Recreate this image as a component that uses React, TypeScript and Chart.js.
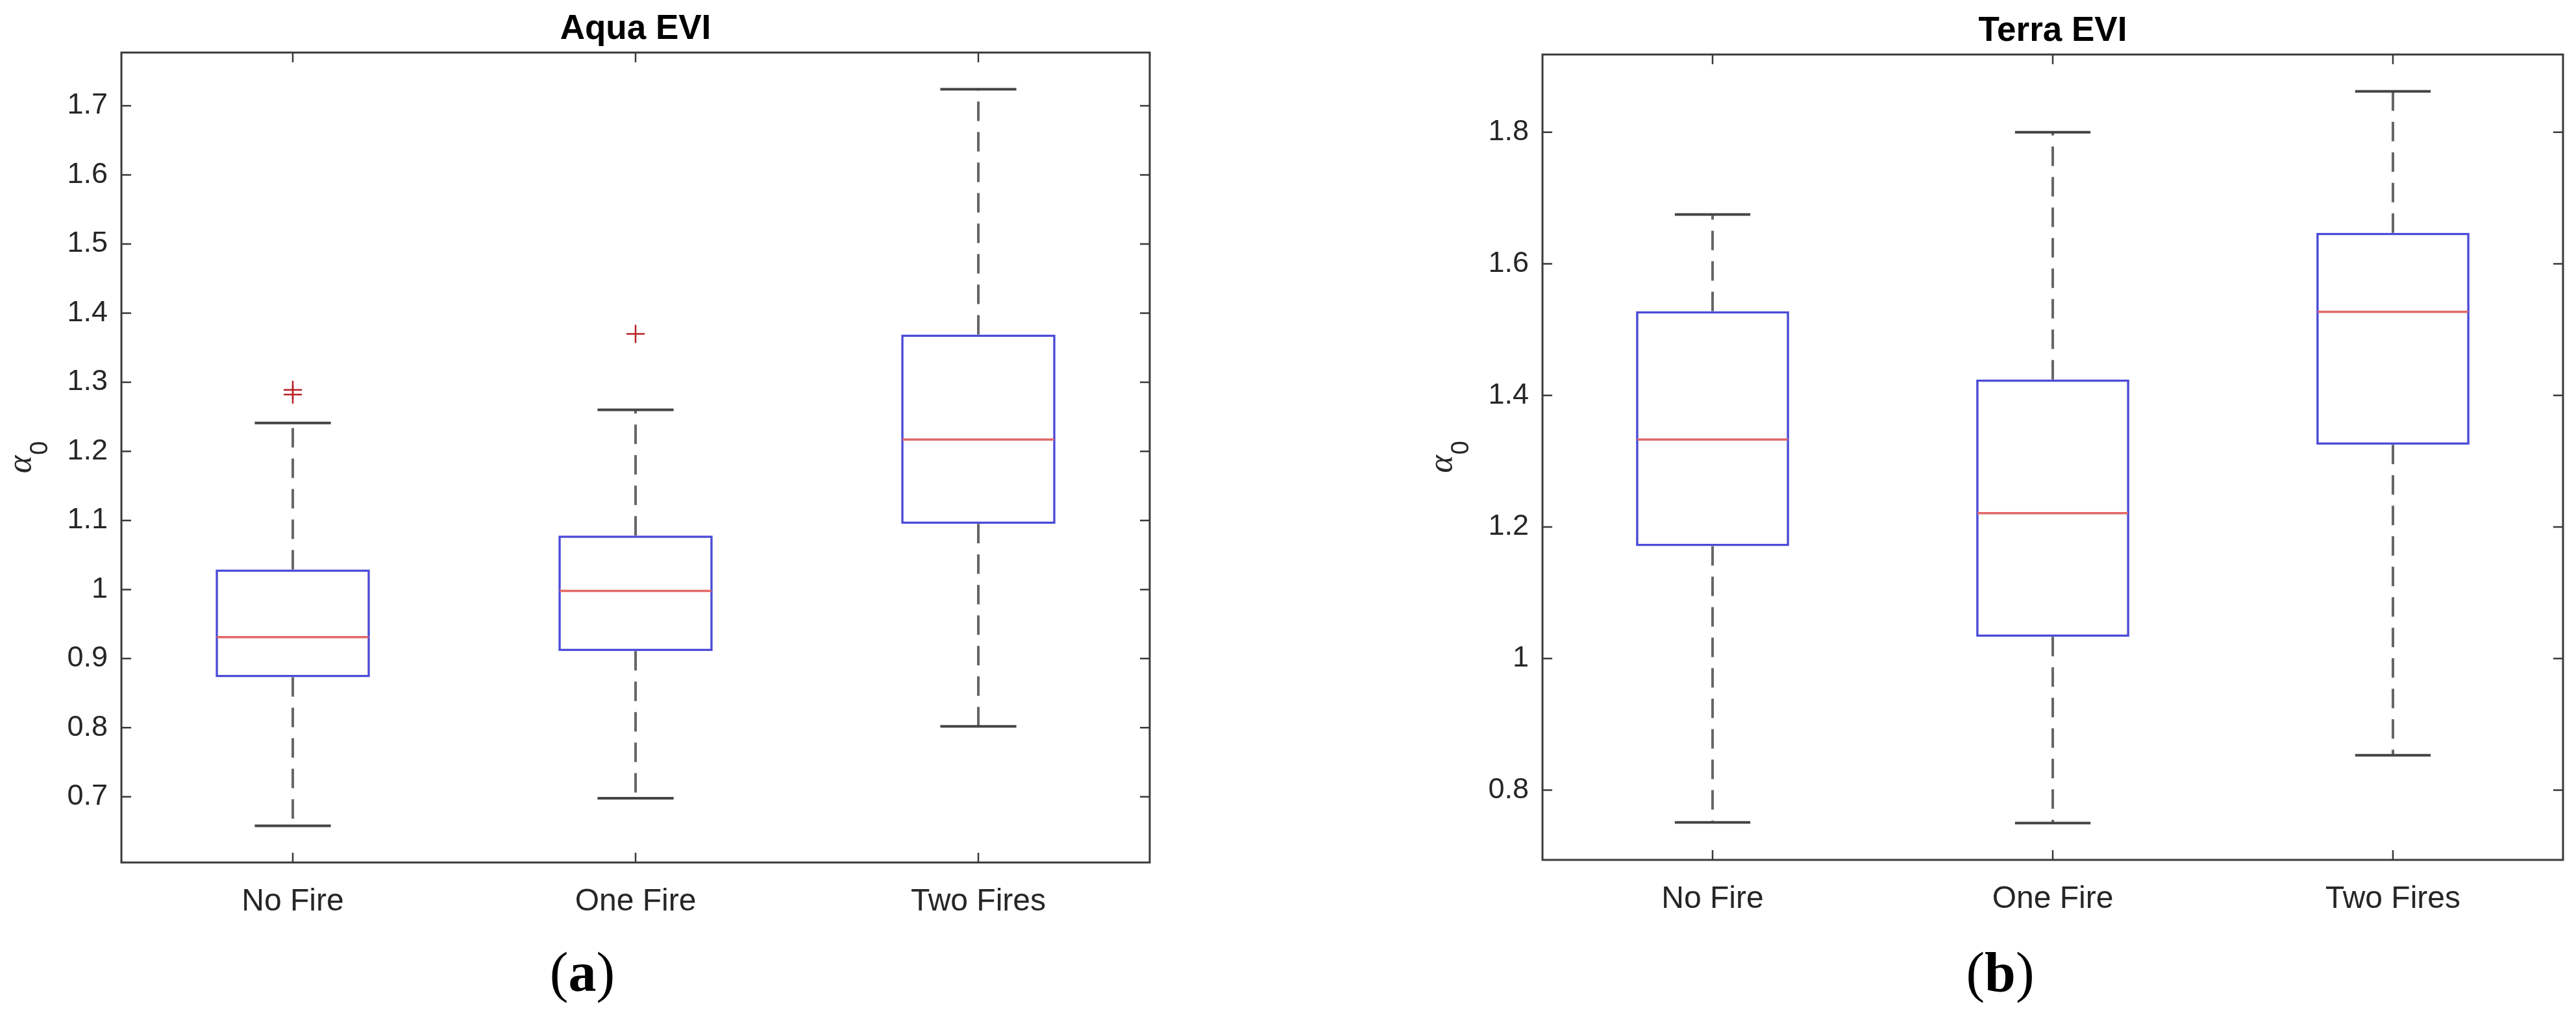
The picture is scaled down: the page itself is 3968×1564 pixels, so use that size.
import React, { useEffect, useRef } from 'react';
import { Chart, registerables } from 'chart.js';

Chart.register(...registerables);

// ---------------- data ----------------
const CATEGORIES = ['No Fire', 'One Fire', 'Two Fires'];

const AQUA_LOWER_WHISKER = [0.658, 0.698, 0.802];
const AQUA_Q1 = [0.873, 0.911, 1.095];
const AQUA_MEDIAN = [0.931, 0.998, 1.217];
const AQUA_Q3 = [1.029, 1.078, 1.369];
const AQUA_UPPER_WHISKER = [1.241, 1.26, 1.724];
const AQUA_OUTLIER_GROUPS = ['No Fire', 'No Fire', 'One Fire'];
const AQUA_OUTLIER_VALUES = [1.289, 1.282, 1.37];
const AQUA_Y_TICKS = [0.7, 0.8, 0.9, 1, 1.1, 1.2, 1.3, 1.4, 1.5, 1.6, 1.7];
const AQUA_Y_LIMITS = [0.605, 1.777];

const TERRA_LOWER_WHISKER = [0.751, 0.75, 0.853];
const TERRA_Q1 = [1.171, 1.033, 1.325];
const TERRA_MEDIAN = [1.333, 1.221, 1.527];
const TERRA_Q3 = [1.528, 1.424, 1.647];
const TERRA_UPPER_WHISKER = [1.675, 1.8, 1.862];
const TERRA_OUTLIER_GROUPS: string[] = [];
const TERRA_OUTLIER_VALUES: number[] = [];
const TERRA_Y_TICKS = [0.8, 1, 1.2, 1.4, 1.6, 1.8];
const TERRA_Y_LIMITS = [0.694, 1.918];

// ---------------- style ----------------
const FIG_H = 1564;
const SANS = '"Liberation Sans", Arial, Helvetica, sans-serif';
const SERIF = '"Liberation Serif", "Times New Roman", serif';
const AXIS_COLOR = '#3a3a3a';
const TEXT_COLOR = '#262626';
const BOX_COLOR = '#4b4bd8';
const MEDIAN_COLOR = '#e26868';
const WHISKER_COLOR = '#666666';
const CAP_COLOR = '#444444';
const OUTLIER_COLOR = '#b82025';
const BOX_FRACTION = 0.45;
const CAP_FRACTION = 0.222;
const X_AXIS_HEIGHT = 110;
const TICK_LEN = 15;

type Panel = {
  title: string;
  caption: string;
  lower: number[];
  q1: number[];
  median: number[];
  q3: number[];
  upper: number[];
  outlierGroups: string[];
  outlierValues: number[];
  ticks: number[];
  limits: number[];
  canvasLeft: number;
  canvasWidth: number;
  area: { left: number; top: number; right: number; bottom: number };
  captionX: number;
};

const AQUA: Panel = {
  title: 'Aqua EVI',
  caption: 'a',
  lower: AQUA_LOWER_WHISKER,
  q1: AQUA_Q1,
  median: AQUA_MEDIAN,
  q3: AQUA_Q3,
  upper: AQUA_UPPER_WHISKER,
  outlierGroups: AQUA_OUTLIER_GROUPS,
  outlierValues: AQUA_OUTLIER_VALUES,
  ticks: AQUA_Y_TICKS,
  limits: AQUA_Y_LIMITS,
  canvasLeft: 0,
  canvasWidth: 2000,
  area: { left: 187, top: 81, right: 1771, bottom: 1329 },
  captionX: 897,
};

const TERRA: Panel = {
  title: 'Terra EVI',
  caption: 'b',
  lower: TERRA_LOWER_WHISKER,
  q1: TERRA_Q1,
  median: TERRA_MEDIAN,
  q3: TERRA_Q3,
  upper: TERRA_UPPER_WHISKER,
  outlierGroups: TERRA_OUTLIER_GROUPS,
  outlierValues: TERRA_OUTLIER_VALUES,
  ticks: TERRA_Y_TICKS,
  limits: TERRA_Y_LIMITS,
  canvasLeft: 2000,
  canvasWidth: 1968,
  area: { left: 376, top: 84, right: 1948, bottom: 1325 },
  captionX: 1081,
};

const fmt = (v: number) => String(Number(v.toFixed(2)));

const boxplotPlugin = {
  id: 'boxplotDecor',
  afterDatasetsDraw(chart: any, _args: any, opts: any) {
    const p: Panel = opts.panel;
    const { ctx, chartArea: ca } = chart;
    const x = chart.scales.x;
    const y = chart.scales.y;
    const meta = chart.getDatasetMeta(0);
    const catW = x.width / CATEGORIES.length;
    ctx.save();
    ctx.lineCap = 'butt';
    CATEGORIES.forEach((_c, i) => {
      const cx = x.getPixelForValue(i);
      const el = meta.data[i];
      const half = el ? el.width / 2 : (catW * BOX_FRACTION) / 2;
      const capHalf = (catW * CAP_FRACTION) / 2;
      // whiskers (dashed)
      ctx.strokeStyle = WHISKER_COLOR;
      ctx.lineWidth = 4;
      ctx.setLineDash([30, 17]);
      ctx.beginPath();
      ctx.moveTo(cx, y.getPixelForValue(p.q3[i]));
      ctx.lineTo(cx, y.getPixelForValue(p.upper[i]));
      ctx.moveTo(cx, y.getPixelForValue(p.q1[i]));
      ctx.lineTo(cx, y.getPixelForValue(p.lower[i]));
      ctx.stroke();
      ctx.setLineDash([]);
      // caps
      ctx.strokeStyle = CAP_COLOR;
      ctx.lineWidth = 4;
      ctx.beginPath();
      const yu = y.getPixelForValue(p.upper[i]);
      const yl = y.getPixelForValue(p.lower[i]);
      ctx.moveTo(cx - capHalf, yu);
      ctx.lineTo(cx + capHalf, yu);
      ctx.moveTo(cx - capHalf, yl);
      ctx.lineTo(cx + capHalf, yl);
      ctx.stroke();
      // median
      ctx.strokeStyle = MEDIAN_COLOR;
      ctx.lineWidth = 3.5;
      const ym = y.getPixelForValue(p.median[i]);
      ctx.beginPath();
      ctx.moveTo(cx - half + 2, ym);
      ctx.lineTo(cx + half - 2, ym);
      ctx.stroke();
    });

    // frame
    ctx.strokeStyle = AXIS_COLOR;
    ctx.lineWidth = 3;
    ctx.strokeRect(ca.left, ca.top, ca.right - ca.left, ca.bottom - ca.top);

    // inward ticks
    ctx.lineWidth = 2.5;
    ctx.beginPath();
    y.ticks.forEach((t: any) => {
      const py = y.getPixelForValue(t.value);
      ctx.moveTo(ca.left, py);
      ctx.lineTo(ca.left + TICK_LEN, py);
      ctx.moveTo(ca.right, py);
      ctx.lineTo(ca.right - TICK_LEN, py);
    });
    CATEGORIES.forEach((_c, i) => {
      const px = x.getPixelForValue(i);
      ctx.moveTo(px, ca.bottom);
      ctx.lineTo(px, ca.bottom - TICK_LEN);
      ctx.moveTo(px, ca.top);
      ctx.lineTo(px, ca.top + TICK_LEN);
    });
    ctx.stroke();
    ctx.restore();
  },
  afterDraw(chart: any, _args: any, opts: any) {
    const p: Panel = opts.panel;
    const { ctx, chartArea: ca } = chart;
    ctx.save();
    // title
    ctx.fillStyle = '#000000';
    ctx.font = `bold 53px ${SANS}`;
    ctx.textAlign = 'center';
    ctx.textBaseline = 'alphabetic';
    ctx.fillText(p.title, (ca.left + ca.right) / 2, ca.top - 21);

    // y label alpha_0
    ctx.save();
    ctx.translate(ca.left - 140, (ca.top + ca.bottom) / 2);
    ctx.rotate(-Math.PI / 2);
    ctx.fillStyle = TEXT_COLOR;
    ctx.textAlign = 'left';
    const aFont = `italic 52px ${SERIF}`;
    const sFont = `38px ${SANS}`;
    ctx.font = aFont;
    const wa = ctx.measureText('α').width;
    ctx.font = sFont;
    const w0 = ctx.measureText('0').width;
    const start = -(wa + w0) / 2;
    ctx.font = aFont;
    ctx.fillText('α', start, 0);
    ctx.font = sFont;
    ctx.fillText('0', start + wa + 1, 26);
    ctx.restore();

    // caption (a)/(b)
    ctx.fillStyle = '#000000';
    ctx.textAlign = 'left';
    const nFont = `86px ${SERIF}`;
    const bFont = `bold 86px ${SERIF}`;
    ctx.font = nFont;
    const wp = ctx.measureText('(').width;
    const wq = ctx.measureText(')').width;
    ctx.font = bFont;
    const wl = ctx.measureText(p.caption).width;
    let cx = p.captionX - (wp + wl + wq) / 2;
    const base = 1527;
    ctx.font = nFont;
    ctx.fillText('(', cx, base);
    cx += wp;
    ctx.font = bFont;
    ctx.fillText(p.caption, cx, base);
    cx += wl;
    ctx.font = nFont;
    ctx.fillText(')', cx, base);
    ctx.restore();
  },
};

function BoxPanel({ panel }: { panel: Panel }) {
  const ref = useRef<HTMLCanvasElement>(null);
  useEffect(() => {
    const canvas = ref.current;
    if (!canvas) return;
    const p = panel;
    const chart = new Chart(canvas, {
      type: 'bar',
      data: {
        labels: CATEGORIES,
        datasets: [
          {
            type: 'bar',
            label: 'IQR',
            data: p.q1.map((q, i) => [q, p.q3[i]]) as any,
            backgroundColor: 'rgba(255,255,255,0)',
            borderColor: BOX_COLOR,
            borderWidth: 3.5,
            borderSkipped: false,
            barPercentage: BOX_FRACTION,
            categoryPercentage: 1,
          } as any,
          {
            type: 'line',
            label: 'Outliers',
            data: p.outlierGroups.map((g, i) => ({ x: g, y: p.outlierValues[i] })) as any,
            showLine: false,
            pointStyle: 'cross',
            pointRadius: 14,
            pointBorderWidth: 2.5,
            borderColor: OUTLIER_COLOR,
            backgroundColor: OUTLIER_COLOR,
            pointBorderColor: OUTLIER_COLOR,
          } as any,
        ],
      },
      options: {
        responsive: false,
        animation: false,
        devicePixelRatio: 1,
        events: [],
        layout: {
          padding: {
            left: 0,
            top: p.area.top,
            right: p.canvasWidth - p.area.right,
            bottom: FIG_H - p.area.bottom - X_AXIS_HEIGHT,
          },
        },
        plugins: {
          legend: { display: false },
          title: { display: false },
          tooltip: { enabled: false },
          boxplotDecor: { panel: p },
        } as any,
        scales: {
          x: {
            type: 'category',
            offset: true,
            grid: { display: false, drawTicks: false },
            border: { display: false },
            ticks: {
              color: TEXT_COLOR,
              font: { family: SANS, size: 48 },
              padding: 32,
              maxRotation: 0,
              autoSkip: false,
            },
            afterFit: (s: any) => {
              s.height = X_AXIS_HEIGHT;
            },
          },
          y: {
            type: 'linear',
            min: p.limits[0],
            max: p.limits[1],
            beginAtZero: false,
            grid: { display: false, drawTicks: false },
            border: { display: false },
            ticks: {
              color: TEXT_COLOR,
              font: { family: SANS, size: 45 },
              padding: 21,
              callback: (v: any) => fmt(Number(v)),
            },
            afterBuildTicks: (s: any) => {
              s.ticks = p.ticks.map((v) => ({ value: v }));
            },
            afterFit: (s: any) => {
              s.width = p.area.left;
            },
          },
        },
      } as any,
      plugins: [boxplotPlugin as any],
    });
    return () => chart.destroy();
  }, [panel]);
  return (
    <canvas
      ref={ref}
      width={panel.canvasWidth}
      height={FIG_H}
      style={{
        position: 'absolute',
        left: panel.canvasLeft,
        top: 0,
        width: panel.canvasWidth,
        height: FIG_H,
      }}
    />
  );
}

export default function App() {
  return (
    <div
      style={{
        position: 'absolute',
        left: 0,
        top: 0,
        width: 3968,
        height: FIG_H,
        background: '#ffffff',
        overflow: 'hidden',
      }}
    >
      <BoxPanel panel={AQUA} />
      <BoxPanel panel={TERRA} />
    </div>
  );
}
